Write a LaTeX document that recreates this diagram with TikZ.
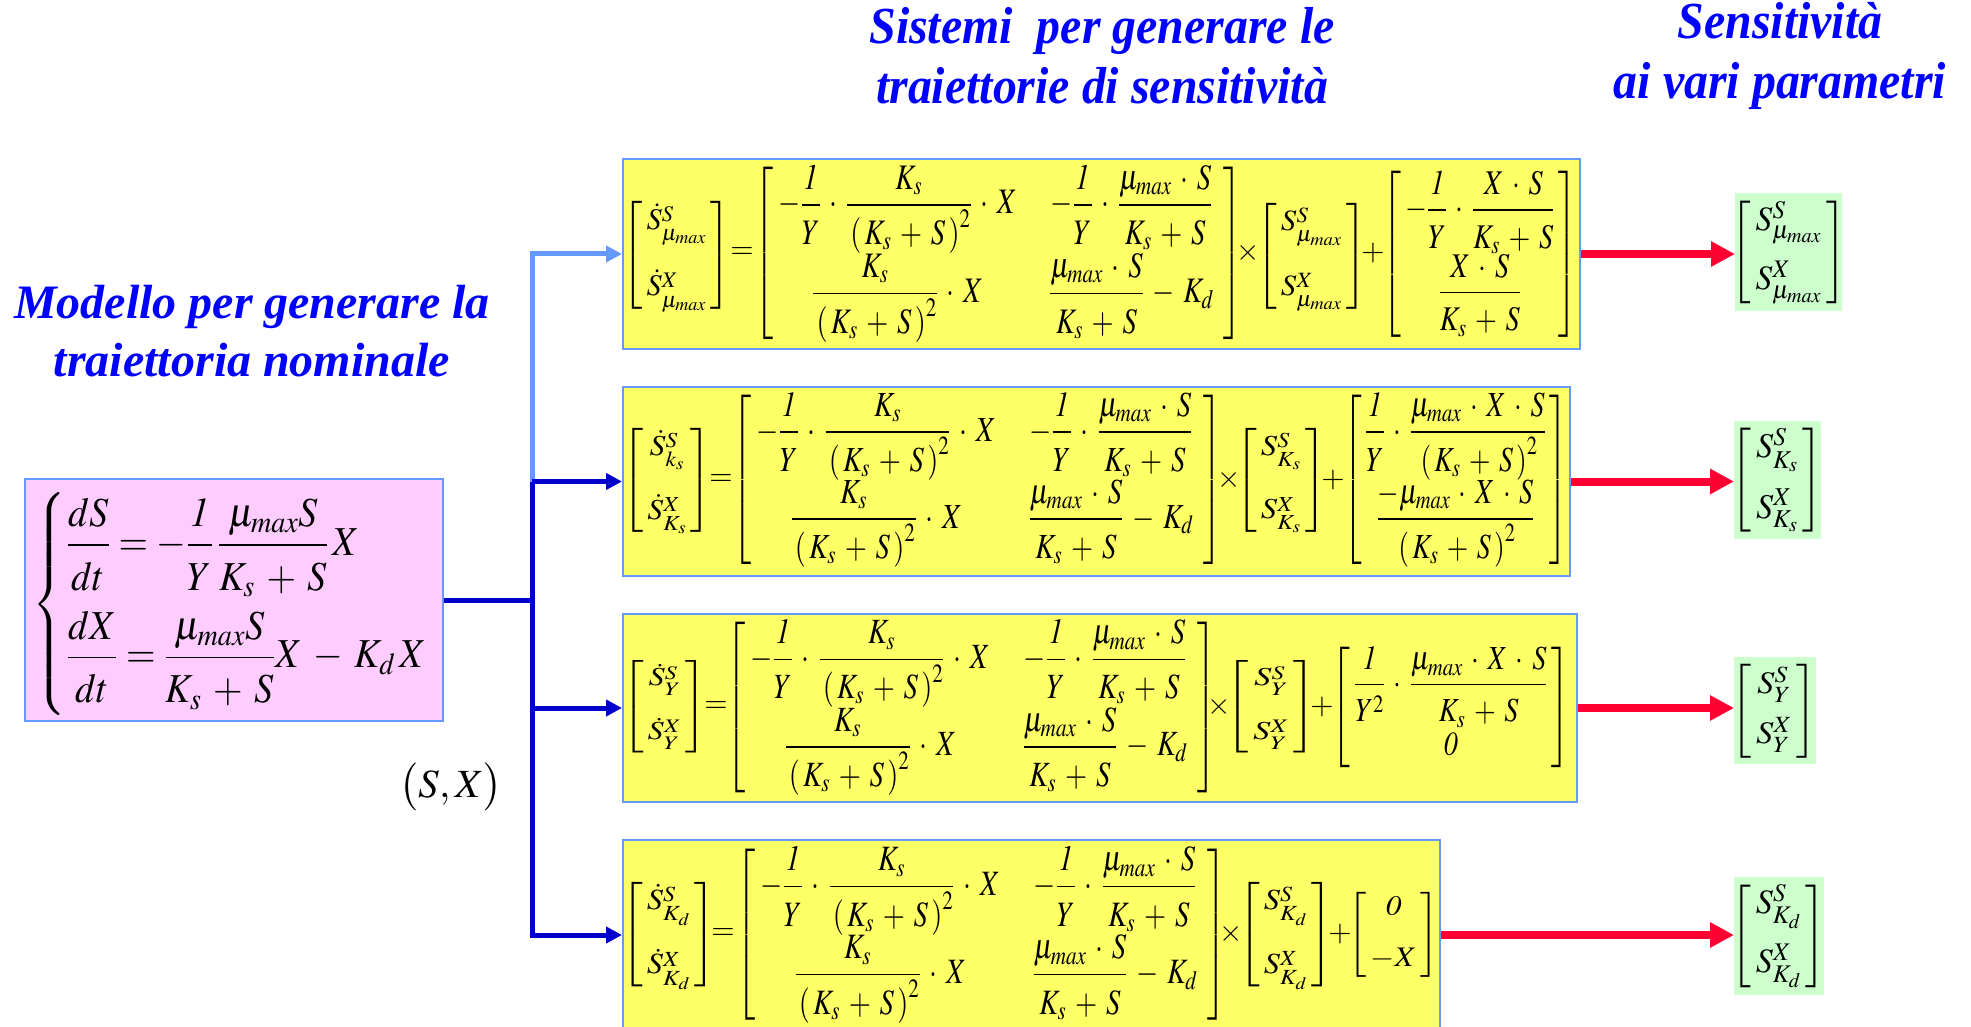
\documentclass[tikz,border=0pt]{standalone}
\usepackage{amsmath}
\usepackage{mathptmx}
\usepackage{fontspec}
\setmainfont{Liberation Serif}
\usetikzlibrary{arrows.meta}
\definecolor{yfill}{HTML}{FFFF66}
\definecolor{pfill}{HTML}{FFCCFF}
\definecolor{gfill}{HTML}{CCFFCC}
\definecolor{bordblue}{HTML}{6699FF}
\definecolor{dblue}{HTML}{0000CC}
\definecolor{lblue}{HTML}{6699FF}
\definecolor{rred}{HTML}{FF0033}
\definecolor{titleblue}{HTML}{0000FF}
\newcommand{\umx}{\mu_{max}}
\newcommand{\uno}{\mathit{1}}
\newcommand{\zro}{\mathit{0}}
\newcommand{\fr}[2]{\dfrac{#1\rule[-9pt]{0pt}{9pt}}{\rule{0pt}{29pt}#2}}
\newcommand{\sss}[3]{#1{}^{\raisebox{-3pt}[0pt][0pt]{$\scriptstyle #2$}}_{\raisebox{-4pt}[0pt][0pt]{$\scriptstyle #3$}}}
\newcommand{\ksq}{\left(\,K_s+S\,\right)^{2}}
\newcommand{\eqA}{-\fr{\uno}{Y}\cdot\fr{K_s}{\ksq}\cdot X}
\newcommand{\eqB}{-\fr{\uno}{Y}\cdot\fr{\umx\cdot S}{K_s+S}}
\newcommand{\eqC}{\fr{K_s}{\ksq}\cdot X}
\newcommand{\eqD}{\fr{\umx\cdot S}{K_s+S}-K_d}
\newcommand{\Mtx}{\kern-6.5pt\left[\begin{array}{@{\hspace{5pt}}c@{\hspace{34pt}}c@{\hspace{10pt}}}\eqA & \eqB\\[16pt] \eqC & \eqD\end{array}\right]\kern-8.5pt}
\newcommand{\vct}[3][3pt]{\kern-6.5pt\left[\begin{array}{@{\hspace{4pt}}c@{\hspace{4pt}}}#2\\[#1]#3\end{array}\right]\kern-8.5pt}
\newcommand{\xsq}[1]{\scalebox{0.92}[1]{#1}}
% component of an equation, resized to its extents: name, x-left, x-right, y-top, y-bottom, math
\newcommand{\eqpart}[6]{\node[eqn] (#1) at ({(#2+#3)/2},{(#4+#5)/2})
  {\resizebox*{\dimexpr#3pt-#2pt\relax}{\dimexpr#5pt-#4pt\relax}{$\displaystyle #6$}};}
\begin{document}
\begin{tikzpicture}[x=1pt,y=-1pt,
  ybox/.style={draw=bordblue,line width=2pt,fill=yfill,inner sep=0pt,anchor=north west},
  pbox/.style={draw=bordblue,line width=2pt,fill=pfill,inner sep=0pt,anchor=north west},
  gbox/.style={fill=gfill,inner sep=0pt,anchor=north west},
  eqn/.style={inner sep=0pt,font=\fontsize{30}{36}\selectfont},
  ttl/.style={text=titleblue,align=center,inner sep=0pt},
  darkline/.style={draw=dblue,line width=5pt},
  lightline/.style={draw=lblue,line width=5pt},
  barrow/.style={-{Triangle[length=16pt,width=16pt]}},
  rarrow/.style={draw=rred,line width=8pt,-{Triangle[length=24pt,width=24pt]}}]
\useasboundingbox (0,0) rectangle (1971,1027);
\clip (0,0) rectangle (1971,1027);
\medmuskip=5.5mu plus 2mu minus 2mu
% titles
\node[ttl,font=\fontsize{52}{60}\selectfont\bfseries\itshape] (t1) at (1102,56)
  {\xsq{Sistemi\ \ per generare le}\\\xsq{traiettorie di sensitività}};
\node[ttl,font=\fontsize{52}{60}\selectfont\bfseries\itshape] (t2) at (1780,56)
  {\xsq{Sensitività}\\\xsq{ai vari parametri}};
\node[ttl,font=\fontsize{48}{58}\selectfont\bfseries\itshape] (t3) at (252,331)
  {Modello per generare la\\traiettoria nominale};
% boxes
\node[pbox,minimum width=418pt,minimum height=242pt] (p) at (24,478) {};
\node[ybox,minimum width=957pt,minimum height=190pt] (b1) at (622,158) {};
\node[ybox,minimum width=947pt,minimum height=189pt] (b2) at (622,386) {};
\node[ybox,minimum width=954pt,minimum height=188pt] (b3) at (622,613) {};
\node[ybox,minimum width=817pt,minimum height=190pt] (b4) at (622,839) {};
\node[gbox,minimum width=107pt,minimum height=118pt] (g1) at (1735,193) {};
\node[gbox,minimum width=87pt,minimum height=118pt] (g2) at (1734,421) {};
\node[gbox,minimum width=82pt,minimum height=107pt] (g3) at (1734,657) {};
\node[gbox,minimum width=90pt,minimum height=118pt] (g4) at (1734,877) {};
% pink equations
\eqpart{pe}{33}{428}{493}{715}{\left\{\begin{array}{@{}l@{}}
  \fr{dS}{dt}=-\fr{\uno}{Y}\,\fr{\umx S}{K_s+S}\,X\\[30pt]
  \fr{dX}{dt}=\fr{\umx S}{K_s+S}X-K_d\,X
  \end{array}\right.}
% yellow box 1
\eqpart{e1v}{629}{722}{201}{309}{\vct[30pt]{\sss{\dot S}{S}{\umx}}{\sss{\dot S}{X}{\umx}}}
\node[eqn] (e1q) at (742,253) {$=$};
\eqpart{e1m}{761}{1234}{165}{342}{\Mtx}
\node[eqn] (e1x) at (1248,253) {$\times$};
\eqpart{e1w}{1263}{1358}{203}{309}{\vct[30pt]{\sss{S}{S}{\umx}}{\sss{S}{X}{\umx}}}
\node[eqn] (e1p) at (1373,253) {$+$};
\eqpart{e1r}{1389}{1569}{171}{337}{\vct[20pt]{-\fr{\uno}{Y}\cdot\fr{X\cdot S}{K_s+S}}{\fr{X\cdot S}{K_s+S}}}
% yellow box 2
\eqpart{e2v}{629}{703}{428}{532}{\vct[30pt]{\sss{\dot S}{S}{k_s}}{\sss{\dot S}{X}{K_s}}}
\node[eqn] (e2q) at (721,480) {$=$};
\eqpart{e2m}{739}{1214}{393}{567}{\Mtx}
\node[eqn] (e2x) at (1229,480) {$\times$};
\eqpart{e2w}{1242}{1318}{428}{532}{\vct[30pt]{\sss{S}{S}{K_s}}{\sss{S}{X}{K_s}}}
\node[eqn] (e2p) at (1333,480) {$+$};
\eqpart{e2r}{1349}{1560}{393}{567}{\vct[16pt]{\fr{\uno}{Y}\cdot\fr{\umx\cdot X\cdot S}{\ksq}}{\fr{-\umx\cdot X\cdot S}{\ksq}}}
% yellow box 3
\eqpart{e3v}{629}{698}{660}{753}{\vct[26pt]{\sss{\dot S}{S}{Y}}{\sss{\dot S}{X}{Y}}}
\node[eqn] (e3q) at (716,707) {$=$};
\eqpart{e3m}{733}{1208}{620}{795}{\Mtx}
\node[eqn] (e3x) at (1219,707) {$\times$};
\eqpart{e3w}{1233}{1307}{660}{753}{\vct[26pt]{\sss{S}{S}{Y}}{\sss{S}{X}{Y}}}
\node[eqn] (e3p) at (1322,707) {$+$};
\eqpart{e3r}{1338}{1562}{647}{768}{\vct[0pt]{\fr{\uno}{Y^2}\cdot\fr{\umx\cdot X\cdot S}{K_s+S}}{\zro}}
% yellow box 4
\eqpart{e4v}{628}{707}{882}{987}{\vct[30pt]{\sss{\dot S}{S}{K_d}}{\sss{\dot S}{X}{K_d}}}
\node[eqn] (e4q) at (723,934) {$=$};
\eqpart{e4m}{743}{1218}{847}{1023}{\Mtx}
\node[eqn] (e4x) at (1231,934) {$\times$};
\eqpart{e4w}{1245}{1324}{882}{987}{\vct[30pt]{\sss{S}{S}{K_d}}{\sss{S}{X}{K_d}}}
\node[eqn] (e4p) at (1340,934) {$+$};
\eqpart{e4r}{1355}{1430}{892}{977}{\vct[18pt]{\zro}{-X}}
% green results
\eqpart{r1}{1739}{1836}{201}{304}{\vct[16pt]{S^{S}_{\umx}}{S^{X}_{\umx}}}
\eqpart{r2}{1739}{1813}{428}{532}{\vct[16pt]{S^{S}_{K_s}}{S^{X}_{K_s}}}
\eqpart{r3}{1739}{1807}{664}{758}{\vct[12pt]{S^{S}_{Y}}{S^{X}_{Y}}}
\eqpart{r4}{1739}{1816}{884}{988}{\vct[16pt]{S^{S}_{K_d}}{S^{X}_{K_d}}}
% (S,X) label
\node[eqn] (sx) at (451,787) {\resizebox*{103pt}{48pt}{$\bigl(S,X\bigr)$}};
% connectors
\coordinate (vx) at (532,0);
\coordinate (j0) at (vx |- p.east);
\coordinate (j1) at (vx |- b1.west);
\coordinate (j2) at (vx |- b2.west);
\coordinate (j3) at (vx |- b3.west);
\coordinate (j4) at (vx |- b4.west);
\draw[darkline] (p.east) -- (j0);
\draw[lightline,barrow] (j2) -- (j1) -- (b1.west);
\draw[darkline,barrow] (j2) -- (b2.west);
\draw[darkline,barrow] (j2) -- (j4) -- (b4.west);
\draw[darkline,barrow] (j3) -- (b3.west);
\draw[rarrow] (b1.east) -- (b1.east -| g1.west);
\draw[rarrow] (b2.east) -- (b2.east -| g2.west);
\draw[rarrow] (b3.east) -- (b3.east -| g3.west);
\draw[rarrow] (b4.east) -- (b4.east -| g4.west);
\end{tikzpicture}
\end{document}
